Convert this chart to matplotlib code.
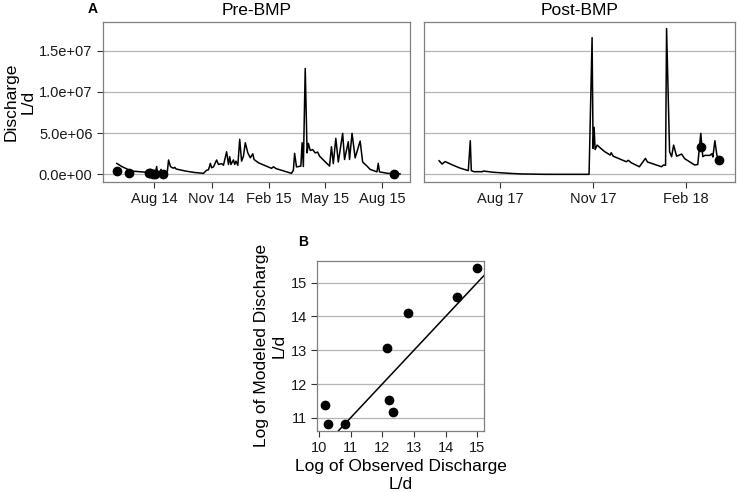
import numpy as np
import pandas as pd
import matplotlib
matplotlib.use("Agg")
from matplotlib import pyplot as plt
import matplotlib.dates as mdates
from matplotlib.ticker import FuncFormatter

plt.rcParams['font.family'] = ['Liberation Sans', 'DejaVu Sans']

# modeled daily discharge, pre-BMP (L/d, in millions)
pre_dates = ["2014-06-02", "2014-06-10", "2014-06-21", "2014-06-25", "2014-07-20", "2014-07-25",
             "2014-07-27", "2014-07-28", "2014-08-03", "2014-08-05", "2014-08-06", "2014-08-10",
             "2014-08-12", "2014-08-13", "2014-08-22", "2014-08-24", "2014-08-27", "2014-08-30",
             "2014-09-01", "2014-09-03", "2014-09-05", "2014-09-20", "2014-10-05", "2014-10-19",
             "2014-10-24", "2014-10-27", "2014-10-30", "2014-11-01", "2014-11-04", "2014-11-09",
             "2014-11-12", "2014-11-17", "2014-11-20", "2014-11-25", "2014-11-28", "2014-11-30",
             "2014-12-02", "2014-12-06", "2014-12-08", "2014-12-10", "2014-12-13", "2014-12-16",
             "2014-12-19", "2014-12-22", "2014-12-25", "2014-12-29", "2015-01-02", "2015-01-06",
             "2015-01-08", "2015-01-15", "2015-02-05", "2015-02-08", "2015-02-12", "2015-02-25",
             "2015-03-09", "2015-03-12", "2015-03-14", "2015-03-17", "2015-03-24", "2015-03-26",
             "2015-03-28", "2015-03-31", "2015-04-03", "2015-04-05", "2015-04-08", "2015-04-12",
             "2015-04-16", "2015-04-20", "2015-04-23", "2015-05-09", "2015-05-12", "2015-05-15",
             "2015-05-19", "2015-05-23", "2015-05-30", "2015-06-02", "2015-06-08", "2015-06-10",
             "2015-06-14", "2015-06-19", "2015-06-27", "2015-07-01", "2015-07-08", "2015-07-13",
             "2015-07-24", "2015-07-26", "2015-07-28", "2015-08-10", "2015-08-30"]
pre_vals = [1.33, 0.95, 0.55, 0.40, 0.25, 0.30,
            0.55, 0.20, 0.25, 0.95, 0.30, 0.35,
            0.60, 0.25, 0.30, 1.74, 0.95, 0.80,
            0.75, 0.85, 0.65, 0.40, 0.22, 0.12,
            0.50, 0.55, 1.33, 0.80, 0.90, 1.74,
            1.20, 1.30, 1.10, 2.74, 1.20, 2.14,
            1.20, 1.75, 1.20, 1.60, 1.10, 4.25,
            1.60, 2.20, 3.84, 2.60, 2.00, 2.50,
            1.80, 1.40, 0.73, 0.92, 0.70, 0.40,
            0.12, 0.50, 2.55, 0.90, 1.00, 3.84,
            0.95, 12.86, 2.60, 3.76, 2.90, 3.00,
            2.60, 2.70, 2.20, 1.00, 3.35, 1.30,
            4.37, 1.50, 4.98, 1.80, 3.96, 1.80,
            4.98, 2.00, 4.04, 1.50, 1.00, 0.60,
            0.30, 1.33, 0.30, 0.12, 0.05]

# modeled daily discharge, post-BMP (L/d, in millions)
post_dates = ["2017-06-01", "2017-06-04", "2017-06-07", "2017-06-15", "2017-06-22", "2017-06-30",
              "2017-07-02", "2017-07-03", "2017-07-06", "2017-07-14", "2017-07-15", "2017-07-25",
              "2017-08-10", "2017-08-21", "2017-09-15", "2017-10-28", "2017-10-31", "2017-11-01",
              "2017-11-02", "2017-11-03", "2017-11-05", "2017-11-12", "2017-11-18", "2017-11-19",
              "2017-11-21", "2017-12-04", "2017-12-06", "2017-12-09", "2017-12-17", "2017-12-23",
              "2017-12-25", "2018-01-08", "2018-01-10", "2018-01-12", "2018-01-13", "2018-01-16",
              "2018-01-18", "2018-01-20", "2018-01-23", "2018-01-28", "2018-01-31", "2018-02-10",
              "2018-02-13", "2018-02-16", "2018-02-18", "2018-02-20", "2018-02-25", "2018-02-27",
              "2018-02-28", "2018-03-02", "2018-03-04", "2018-03-06"]
post_vals = [1.65, 1.25, 1.55, 1.10, 0.75, 0.45,
             4.08, 0.45, 0.32, 0.32, 0.40, 0.25,
             0.12, 0.05, 0.00, 0.00, 16.60, 3.15,
             5.70, 3.00, 3.55, 2.80, 2.34, 2.62,
             2.20, 1.53, 1.70, 1.40, 0.92, 1.94,
             1.50, 0.92, 1.13, 1.10, 17.70, 2.74,
             2.14, 3.55, 2.20, 2.46, 1.90, 1.13,
             1.20, 4.98, 2.14, 2.30, 2.30, 2.50,
             2.10, 4.08, 2.30, 1.80]

# observed discharge samples (L/d, in millions)
pre_obs_dates = ["2014-06-02", "2014-06-21", "2014-07-23", "2014-07-26", "2014-07-30", "2014-08-02",
                 "2014-08-15", "2015-08-20"]
pre_obs_vals = [0.35, 0.20, 0.20, 0.15, 0.00, 0.10, 0.00, 0.00]
post_obs_dates = ["2018-02-16", "2018-03-06"]
post_obs_vals = [3.28, 1.74]

# panel B: log observed vs log modeled
log_obs = [10.19, 10.29, 10.84, 12.14, 12.21, 12.35, 12.82, 14.37, 14.99]
log_mod = [11.38, 10.83, 10.83, 13.08, 11.54, 11.16, 14.10, 14.58, 15.43]

border = "#7f7f7f"
gridc = "#b5b5b5"


def style(ax):
    for s in ax.spines.values():
        s.set_color(border)
        s.set_linewidth(0.9)
    ax.tick_params(colors="#333333", labelcolor="#1a1a1a", labelsize=10.5, length=4, width=0.8)
    ax.grid(axis="y", color=gridc, linewidth=0.9)
    ax.set_axisbelow(True)


fig = plt.figure(figsize=(7.37, 4.92), dpi=100)
ax1 = fig.add_axes([0.1398, 0.6301, 0.4166, 0.3252])
ax2 = fig.add_axes([0.5753, 0.6301, 0.4220, 0.3252], sharey=ax1)
ax3 = fig.add_axes([0.4305, 0.1246, 0.2266, 0.3449])

for ax, d, v, od, ov, title, lims in [
        (ax1, pre_dates, pre_vals, pre_obs_dates, pre_obs_vals, "Pre-BMP", ("2014-05-11", "2015-09-15")),
        (ax2, post_dates, post_vals, post_obs_dates, post_obs_vals, "Post-BMP", ("2017-05-17", "2018-03-22"))]:
    style(ax)
    ax.plot(pd.to_datetime(d), np.array(v) * 1e6, color="black", linewidth=1.1)
    ax.plot(pd.to_datetime(od), np.array(ov) * 1e6, "o", color="black", markersize=6)
    ax.set_xlim(pd.to_datetime(lims[0]), pd.to_datetime(lims[1]))
    ax.xaxis.set_major_locator(mdates.MonthLocator(bymonth=[2, 5, 8, 11]))
    ax.xaxis.set_major_formatter(mdates.DateFormatter("%b %y"))
    ax.set_title(title, fontsize=12.5, pad=5)

ax1.set_ylim(-0.93e6, 1.85e7)
ax1.set_yticks([0, 5e6, 1e7, 1.5e7])
ax1.yaxis.set_major_formatter(FuncFormatter(lambda v, p: f"{v:.1e}"))
ax1.set_ylabel("Discharge\nL/d", fontsize=12.5, labelpad=2)
ax2.tick_params(axis="y", left=False, labelleft=False)

style(ax3)
ax3.plot(log_obs, log_mod, "o", color="black", markersize=6)
ax3.axline((10, 10), (15, 15), color="black", linewidth=1.1)
ax3.set_xlim(9.95, 15.22)
ax3.set_ylim(10.62, 15.64)
ax3.set_xticks([10, 11, 12, 13, 14, 15])
ax3.set_yticks([11, 12, 13, 14, 15])
ax3.set_xlabel("Log of Observed Discharge\nL/d", fontsize=12.5, labelpad=3)
ax3.set_ylabel("Log of Modeled Discharge\nL/d", fontsize=12.5, labelpad=3)

fig.text(93 / 737, 1 - 9 / 492, "A", fontsize=10, fontweight="bold", ha="center", va="center")
fig.text(303 / 737, 1 - 242 / 492, "B", fontsize=10, fontweight="bold", ha="center", va="center")

fig.savefig("out.png", dpi=100)
